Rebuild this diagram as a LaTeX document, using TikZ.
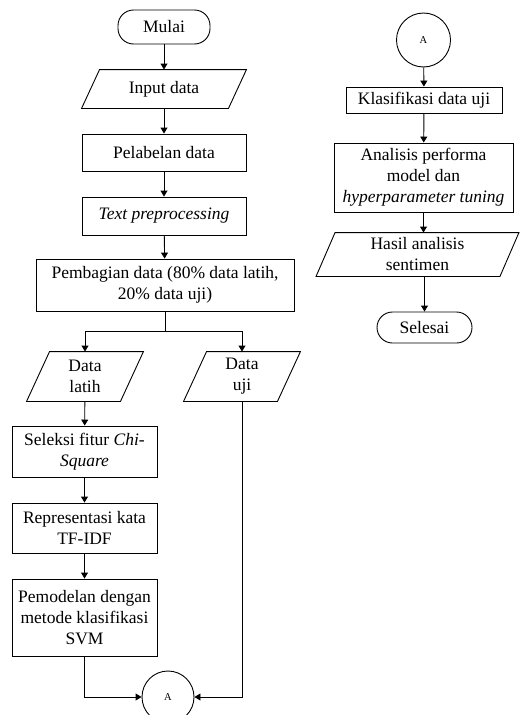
\documentclass[tikz,border=0pt]{standalone}
\usepackage{fontspec}
\setmainfont{Liberation Serif}
\usetikzlibrary{arrows.meta}

\begin{document}
\begin{tikzpicture}[x=1pt, y=-1pt, line width=0.9pt,
  >={Triangle[width=7pt,length=6pt]},
  every node/.style={font=\fontsize{17.5}{21}\selectfont, align=center, inner sep=2pt},
  process/.style={draw, rectangle},
  io/.style={rectangle},
  terminal/.style={draw, rectangle, rounded corners=15.5pt},
  connector/.style={draw, circle, font=\fontsize{10.5}{12}\selectfont}]

\useasboundingbox (0,0) rectangle (521,715);

% Left column
\node[terminal, minimum width=92pt, minimum height=34pt] (mulai) at (164,27) {Mulai};
\node[io, minimum width=146pt, minimum height=38pt] (input) at (164,89) {Input data};
\node[process, minimum width=164pt, minimum height=37pt] (label) at (164,152.5) {Pelabelan data};
\node[process, minimum width=164pt, minimum height=38pt] (prep) at (164,216) {\textit{Text preprocessing}};
\node[process, minimum width=258pt, minimum height=52pt] (bagi) at (165,285) {Pembagian data (80\% data latih,\\20\% data uji)};

% Split into training and test data
\node[io, minimum width=93pt, minimum height=49pt] (latih) at (85,376.5) {Data\\latih};
\node[io, minimum width=93pt, minimum height=49pt] (uji) at (242,376.5) {Data\\uji};

\node[process, minimum width=145pt, minimum height=51pt] (seleksi) at (84.5,451.5) {Seleksi fitur \textit{Chi-}\\\textit{Square}};
\node[process, minimum width=145pt, minimum height=50pt] (tfidf) at (84.5,528) {Representasi kata\\TF-IDF};
\node[process, minimum width=145pt, minimum height=77pt] (model) at (84.5,617.5) {Pemodelan dengan\\metode klasifikasi\\SVM};
\node[connector, minimum size=52pt] (offA) at (168,697) {A};

% Right column
\node[connector, minimum size=54pt] (onA) at (423.5,40) {A};
\node[process, minimum width=156pt, minimum height=26pt] (klas) at (424,100) {Klasifikasi data uji};
\node[process, minimum width=179pt, minimum height=69pt] (analisis) at (423.5,177.5) {Analisis performa\\model dan\\\textit{hyperparameter tuning}};
\node[io, minimum width=183pt, minimum height=43pt] (hasil) at (417.5,254.5) {Hasil analisis\\sentimen};
\node[terminal, minimum width=95pt, minimum height=31pt] (selesai) at (424.5,327.5) {Selesai};

% Parallelogram outlines for input/output
\foreach \n/\s in {input/9, latih/11.5, uji/11.5, hasil/9.5}
  \draw ([xshift=\s pt]\n.north west) -- ([xshift=\s pt]\n.north east)
     -- ([xshift=-\s pt]\n.south east) -- ([xshift=-\s pt]\n.south west) -- cycle;

% Connections
\draw[->] (mulai) -- (input);
\draw[->] (input) -- (label);
\draw[->] (label) -- (prep);
\draw[->] (prep) -- (bagi);
\draw (bagi.south) -- ++(0,20) coordinate (cabang);
\draw[->] (cabang) -| (latih.north);
\draw[->] (cabang) -| (uji.north);
\draw[->] (latih) -- (seleksi);
\draw[->] (seleksi) -- (tfidf);
\draw[->] (tfidf) -- (model);
\draw[->] (model.south) |- (offA.west);
\draw[->] (uji.south) |- (offA.east);

\draw[->] (onA) -- (klas);
\draw[->] (klas) -- (analisis);
\draw[->] (analisis) -- (hasil.north -| analisis.south);
\draw[->] (hasil.south -| selesai.north) -- (selesai);

\end{tikzpicture}
\end{document}
